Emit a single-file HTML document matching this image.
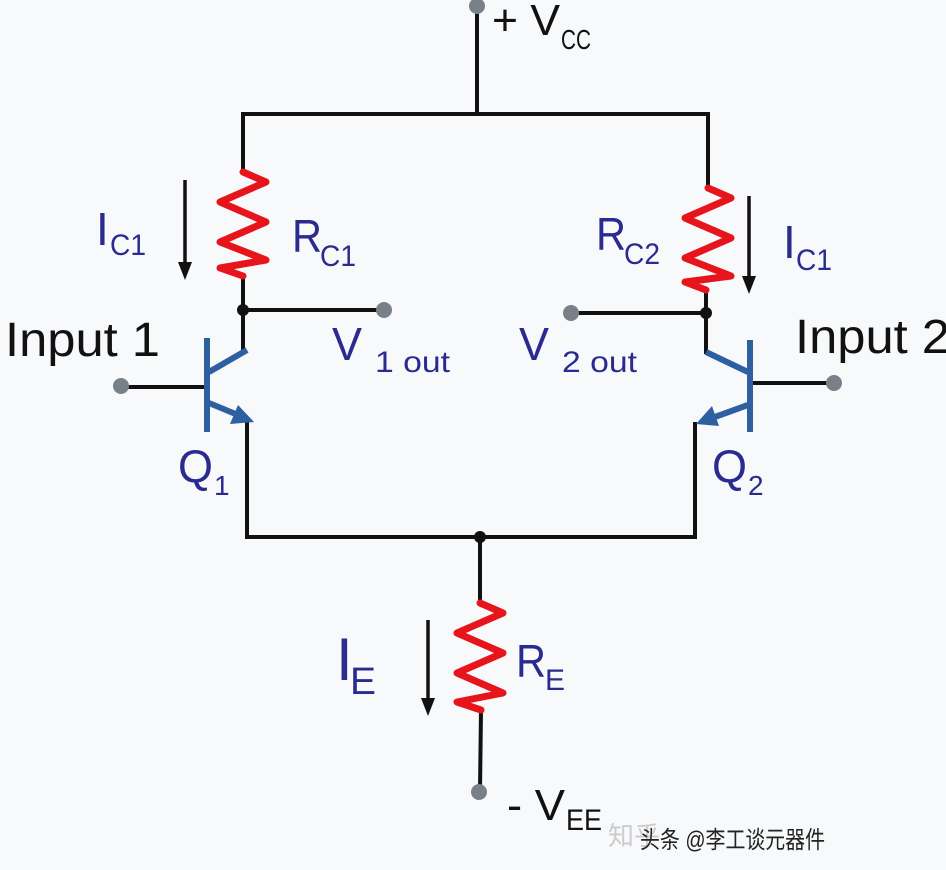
<!DOCTYPE html>
<html><head><meta charset="utf-8"><style>
html,body{margin:0;padding:0;background:#f7f9fb;}
svg{display:block}
text{font-family:"Liberation Sans","DejaVu Sans",sans-serif;}
</style></head><body>
<svg width="946" height="870" viewBox="0 0 946 870" xmlns="http://www.w3.org/2000/svg">
<rect width="946" height="870" fill="#f7f9fb"/>
<g stroke="#111" stroke-width="4" fill="none" stroke-linecap="square">
<line x1="477" y1="8" x2="477" y2="112"/>
<polyline points="243,172 243,114 708,114 708,186"/>
<line x1="243" y1="275" x2="243" y2="350"/>
<line x1="243" y1="310" x2="383" y2="310"/>
<line x1="128" y1="387" x2="207" y2="387"/>
<polyline points="247,422 247,537 695,537 695,424"/>
<line x1="706" y1="290" x2="706" y2="352"/>
<line x1="574" y1="313" x2="706" y2="313"/>
<line x1="750" y1="383" x2="833" y2="383"/>
<line x1="480" y1="537" x2="480" y2="603"/>
<line x1="481" y1="710" x2="480" y2="790"/>
</g>
<g stroke="#e8141b" stroke-width="7" fill="none" stroke-linejoin="round" stroke-linecap="round">
<polyline points="243,172 266,182 220,202 266,222 220,242 266,260 220,268 243,276"/>
<polyline points="708,188 731,198 685,218 731,238 685,258 731,276 685,282 706,290"/>
<polyline points="480,603 503,613 457,633 503,653 457,673 503,693 457,702 481,710"/>
</g>
<g stroke="#2e5fa0" stroke-width="6" fill="none">
<line x1="207" y1="338" x2="207" y2="432"/>
<line x1="209" y1="372" x2="247" y2="350"/>
<line x1="209" y1="403" x2="238" y2="415"/>
<line x1="750" y1="340" x2="750" y2="432"/>
<line x1="748" y1="372" x2="706" y2="352"/>
<line x1="748" y1="405" x2="712" y2="418"/>
</g>
<polygon points="254,422 230,424 238,405" fill="#2e5fa0"/>
<polygon points="696,424 719,426 712,406" fill="#2e5fa0"/>
<g fill="#111"><circle cx="243" cy="310" r="6"/><circle cx="706" cy="313" r="6"/><circle cx="480" cy="537" r="6"/></g>
<g fill="#7a8088"><circle cx="477" cy="6" r="8"/><circle cx="384" cy="310" r="8"/><circle cx="121" cy="386" r="8"/><circle cx="571" cy="313" r="8"/><circle cx="834" cy="383" r="8"/><circle cx="479" cy="792" r="8"/></g>
<g stroke="#111" stroke-width="3.5"><line x1="185" y1="180" x2="185" y2="265"/><line x1="749" y1="196" x2="749" y2="278"/><line x1="428" y1="620" x2="428" y2="700"/></g>
<g fill="#111"><polygon points="178,262 192,262 185,280"/><polygon points="742,276 756,276 749,294"/><polygon points="421,698 435,698 428,716"/></g>
<g fill="#111">
<text x="492" y="35" font-size="44" textLength="68" lengthAdjust="spacingAndGlyphs">+ V</text><text x="561" y="49" font-size="28" textLength="30" lengthAdjust="spacingAndGlyphs">CC</text>
<text x="5" y="356" font-size="48" textLength="155" lengthAdjust="spacingAndGlyphs">Input 1</text>
<text x="795" y="353" font-size="48" textLength="155" lengthAdjust="spacingAndGlyphs">Input 2</text>
<text x="507" y="820" font-size="44" textLength="58" lengthAdjust="spacingAndGlyphs">- V</text><text x="566" y="830" font-size="30" textLength="36" lengthAdjust="spacingAndGlyphs">EE</text>
</g>
<g fill="#2a2a8f">
<text x="96" y="245" font-size="46">I</text><text x="110" y="255" font-size="30" textLength="36" lengthAdjust="spacingAndGlyphs">C1</text>
<text x="292" y="252" font-size="46" textLength="30" lengthAdjust="spacingAndGlyphs">R</text><text x="320" y="266" font-size="30" textLength="36" lengthAdjust="spacingAndGlyphs">C1</text>
<text x="596" y="250" font-size="46" textLength="30" lengthAdjust="spacingAndGlyphs">R</text><text x="624" y="264" font-size="30" textLength="36" lengthAdjust="spacingAndGlyphs">C2</text>
<text x="783" y="258" font-size="46">I</text><text x="796" y="270" font-size="30" textLength="36" lengthAdjust="spacingAndGlyphs">C1</text>
<text x="332" y="360" font-size="46" textLength="30" lengthAdjust="spacingAndGlyphs">V</text><text x="375" y="372" font-size="30" textLength="75" lengthAdjust="spacingAndGlyphs">1 out</text>
<text x="519" y="360" font-size="46" textLength="30" lengthAdjust="spacingAndGlyphs">V</text><text x="562" y="372" font-size="30" textLength="75" lengthAdjust="spacingAndGlyphs">2 out</text>
<text x="178" y="482" font-size="46" textLength="35" lengthAdjust="spacingAndGlyphs">Q</text><text x="214" y="495" font-size="28">1</text>
<text x="712" y="482" font-size="46" textLength="35" lengthAdjust="spacingAndGlyphs">Q</text><text x="748" y="495" font-size="28">2</text>
<text x="336" y="680" font-size="60">I</text><text x="350" y="694" font-size="38" textLength="26" lengthAdjust="spacingAndGlyphs">E</text>
<text x="516" y="677" font-size="46" textLength="30" lengthAdjust="spacingAndGlyphs">R</text><text x="545" y="690" font-size="30">E</text>
</g>
<text x="608" y="845" font-size="26" fill="#ccc" font-family="'Noto Sans CJK SC',sans-serif">知乎</text>
<text x="640" y="848" font-size="24" fill="#222" font-family="'Liberation Sans','Noto Sans CJK SC',sans-serif" textLength="185" lengthAdjust="spacingAndGlyphs">头条 @李工谈元器件</text>
</svg>
</body></html>
